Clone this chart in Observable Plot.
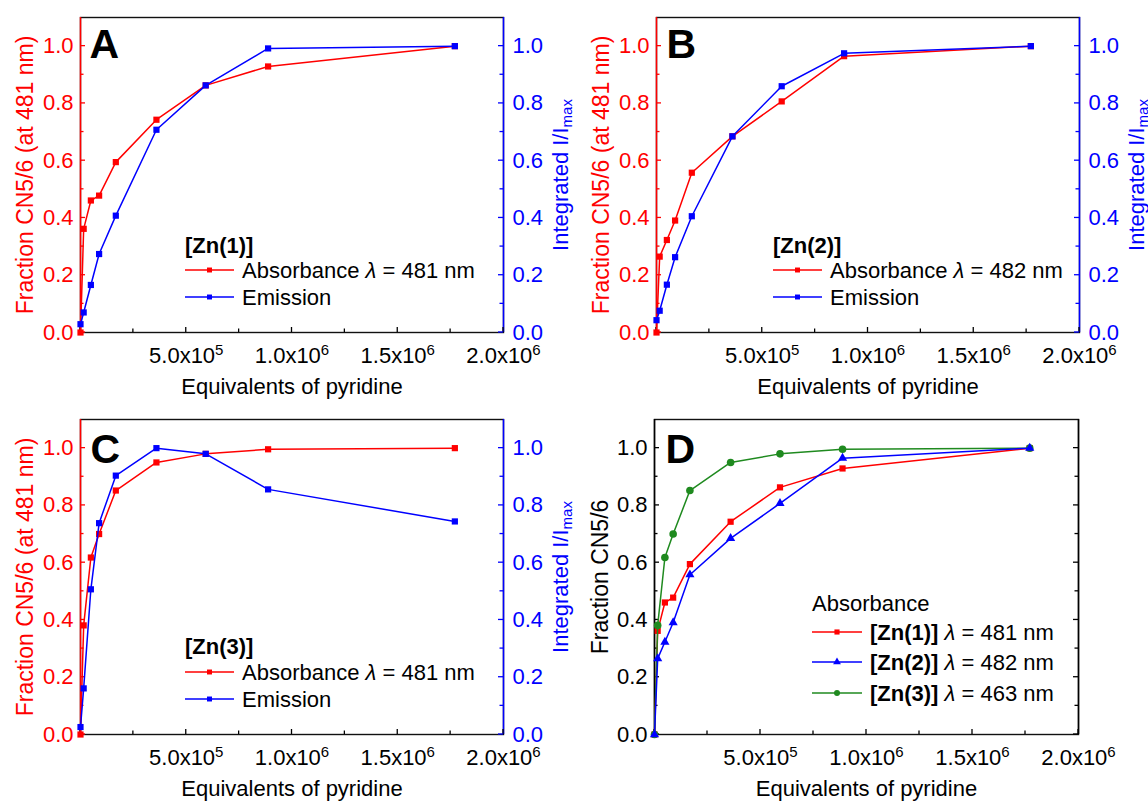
<!DOCTYPE html>
<html>
<head>
<meta charset="utf-8">
<script src="https://cdn.jsdelivr.net/npm/d3@7"></script>
<script src="https://cdn.jsdelivr.net/npm/@observablehq/plot@0.6"></script>
<style>
  body { margin: 0; background: #fff; color: #000; }
  #grid { display: grid; grid-template-columns: 574px 574px; grid-template-rows: 401px 401px; width: 1148px; height: 802px; }
  #grid svg { display: block; overflow: visible; }
</style>
</head>
<body>
<div id="grid"></div>
<script>
// ---- data ----
const equivalents = [0, 15000, 49000, 88000, 167000, 359000, 592000, 887000, 1770000];
const absZn1 = [0, 0.362, 0.461, 0.478, 0.595, 0.743, 0.863, 0.929, 1.0];
const emiZn1 = [0.029, 0.07, 0.166, 0.274, 0.408, 0.708, 0.863, 0.992, 1.0];
const absZn2 = [0, 0.265, 0.323, 0.391, 0.558, 0.685, 0.807, 0.965, 1.0];
const emiZn2 = [0.043, 0.076, 0.167, 0.263, 0.406, 0.685, 0.86, 0.975, 1.0];
const absZn3 = [0, 0.381, 0.618, 0.70, 0.852, 0.95, 0.98, 0.996, 1.0];
const emiZn3 = [0.026, 0.161, 0.507, 0.738, 0.904, 1.0, 0.98, 0.856, 0.744];

const xMajorTicks = [0, 500000, 1000000, 1500000, 2000000];
const xMinorTicks = [250000, 750000, 1250000, 1750000];
const yMajorTicks = [0, 0.2, 0.4, 0.6, 0.8, 1.0];
const yMinorTicks = [0.1, 0.3, 0.5, 0.7, 0.9];

const complexes = ["[Zn(1)]", "[Zn(2)]", "[Zn(3)]"];
const panelWavelengths = [481, 482, 481];
const overlayWavelengths = [481, 482, 463];
const xLabel = "Equivalents of pyridine";
const leftLabel = "Fraction CN5/6 (at 481 nm)";
const leftLabelD = "Fraction CN5/6";
const rightLabel = "Integrated I/I_max";

const RED = "#ff0000", BLUE = "#0000ff", GREEN = "#1f8a1f";
const FONT = "'Liberation Sans', Arial, Helvetica, sans-serif";

function sci(d) {
  if (d === 0) return "";
  const e = Math.floor(Math.log10(d) + 1e-9);
  const m = d / Math.pow(10, e);
  return `${m.toFixed(1)}x10^${e}`;
}
const rows = ys => equivalents.map((x, i) => ({x, y: ys[i]}));

// inward tick marks drawn through the plot's own scales
function tickMark(leftColor, rightColor) {
  return (index, scales, values, dims) => {
    const {x, y} = scales;
    const g = d3.create("svg:g").attr("stroke-width", 1.3);
    const bottom = dims.height - dims.marginBottom;
    const left = dims.marginLeft, right = dims.width - dims.marginRight;
    const seg = (x1, y1, x2, y2, c) => g.append("line").attr("x1", x1).attr("y1", y1).attr("x2", x2).attr("y2", y2).attr("stroke", c);
    for (const v of xMajorTicks) seg(x(v), bottom, x(v), bottom - 5, "#000");
    for (const v of xMinorTicks) seg(x(v), bottom, x(v), bottom - 3.5, "#000");
    for (const v of yMajorTicks) { seg(left, y(v), left + 5, y(v), leftColor); seg(right, y(v), right - 5, y(v), rightColor); }
    for (const v of yMinorTicks) { seg(left, y(v), left + 3.5, y(v), leftColor); seg(right, y(v), right - 3.5, y(v), rightColor); }
    return g.node();
  };
}

function legendMark(spec) {
  return () => {
    const g = d3.create("svg:g").attr("font-size", 22).attr("font-family", FONT).attr("text-anchor", "start");
    if (spec.title) {
      g.append("text").attr("x", spec.titleX ?? spec.x0).attr("y", spec.titleY).attr("dy", "0.35em")
        .attr("font-weight", spec.titleBold ? "bold" : null).attr("fill", "#000").text(spec.title);
    }
    for (const it of spec.items) {
      g.append("line").attr("x1", spec.x0).attr("x2", spec.x1).attr("y1", it.y).attr("y2", it.y)
        .attr("stroke", it.color).attr("stroke-width", 1.5);
      g.append("path").attr("d", d3.symbol(it.symbol, it.r * it.r * Math.PI)())
        .attr("transform", `translate(${(spec.x0 + spec.x1) / 2},${it.y})`).attr("fill", it.color);
      const t = g.append("text").attr("x", spec.textX).attr("y", it.y).attr("dy", "0.35em")
        .attr("fill", "#000").style("white-space", "pre");
      for (const [s, st] of it.parts) {
        t.append("tspan").attr("font-style", st === "italic" ? "italic" : null)
          .attr("font-weight", st === "bold" ? "bold" : null).text(s);
      }
    }
    return g.node();
  };
}

function enhance(svg) {
  d3.select(svg).selectAll("text").each(function() {
    if (this.querySelector("tspan")) return;
    const t = this.textContent;
    let m = t.match(/^(.*x10)\^(\d+)$/);
    if (m) {
      const s = d3.select(this); s.text(null);
      s.append("tspan").text(m[1]);
      s.append("tspan").attr("dy", "-0.55em").attr("font-size", 15).text(m[2]);
      return;
    }
    m = t.match(/^(.*)_(\w+)$/);
    if (m) {
      const s = d3.select(this); s.text(null);
      s.append("tspan").text(m[1]);
      s.append("tspan").attr("dy", "0.3em").attr("font-size", 15).text(m[2]);
    }
  });
}

function panel(cfg) {
  const marks = [
    Plot.frame({stroke: "#111", strokeWidth: 1.4}),
    Plot.axisX({ticks: xMajorTicks, tickFormat: sci, tickSize: 0, tickPadding: 15, label: null, color: "#000"}),
    Plot.axisY({anchor: "left", ticks: yMajorTicks, tickFormat: d => d.toFixed(1), tickSize: 0, tickPadding: 7, label: null, color: cfg.leftColor}),
    Plot.axisY({anchor: "right", ticks: yMajorTicks, tickFormat: cfg.rightLabels ? (d => d.toFixed(1)) : (() => ""), tickSize: 0, tickPadding: 9, label: null, color: cfg.rightColor}),
    Plot.ruleX([0], {stroke: cfg.leftColor, strokeWidth: 1.5}),
    Plot.ruleX([2000000], {stroke: cfg.rightColor, strokeWidth: 1.5}),
    tickMark(cfg.leftColor, cfg.rightColor),
    Plot.text([cfg.leftLabel], {text: d => d, frameAnchor: "left", rotate: -90, dx: cfg.leftDx, textAnchor: "middle", lineAnchor: "middle", fill: cfg.leftColor, fontSize: 23}),
    Plot.text([xLabel], {text: d => d, frameAnchor: "bottom", dy: 54, textAnchor: "middle", lineAnchor: "middle", fill: "#000", fontSize: 22}),
    Plot.text([cfg.letter], {text: d => d, frameAnchor: "top-left", dx: cfg.letterDx, dy: cfg.letterDy, textAnchor: "start", lineAnchor: "top", fontSize: 41, fontWeight: "bold", fill: "#000"})
  ];
  if (cfg.rightLabel) {
    marks.push(Plot.text([cfg.rightLabel], {text: d => d, frameAnchor: "right", rotate: -90, dx: 57, textAnchor: "middle", lineAnchor: "middle", fill: cfg.rightColor, fontSize: 22}));
  }
  for (const s of cfg.series) {
    marks.push(Plot.line(rows(s.values), {x: "x", y: "y", stroke: s.color, strokeWidth: 1.5}));
    marks.push(Plot.dot(rows(s.values), {x: "x", y: "y", symbol: s.symbol, r: s.r, fill: s.color, stroke: "none"}));
  }
  marks.push(legendMark(cfg.legend));
  const svg = Plot.plot({
    width: 574, height: 401,
    marginTop: cfg.m[0], marginRight: cfg.m[1], marginBottom: cfg.m[2], marginLeft: cfg.m[3],
    x: {domain: [0, 2000000]},
    y: {domain: [0, 1.1]},
    style: {fontFamily: FONT, fontSize: "22px", background: "#fff", color: "#000", overflow: "visible"},
    marks
  });
  enhance(svg);
  document.getElementById("grid").appendChild(svg);
}

function pairLegend(i, x0, titleY, y1, y2) {
  return {
    title: complexes[i], titleBold: true, titleY, x0, x1: x0 + 49, textX: x0 + 57,
    items: [
      {color: RED, symbol: d3.symbolSquare, r: 2.8, y: y1, parts: [["Absorbance ", ""], ["λ", "italic"], [` = ${panelWavelengths[i]} nm`, ""]]},
      {color: BLUE, symbol: d3.symbolSquare, r: 2.8, y: y2, parts: [["Emission", ""]]}
    ]
  };
}

const absSeries = [absZn1, absZn2, absZn3];
const emiSeries = [emiZn1, emiZn2, emiZn3];
const letters = ["A", "B", "C"];
const margins = [[17, 71, 69, 80], [17, 69, 69, 82], [18, 71, 68, 80]];
const legendPos = [[185, 245, 270, 297], [199, 245, 270, 297], [185, 245, 271, 298]];
const letterPos = [[9, 11], [10, 11], [10, 14]];

for (let i = 0; i < 3; i++) {
  panel({
    letter: letters[i], letterDx: letterPos[i][0], letterDy: letterPos[i][1],
    m: margins[i],
    leftColor: RED, rightColor: BLUE, rightLabels: true,
    leftLabel, leftDx: -55, rightLabel,
    series: [
      {values: absSeries[i], color: RED, symbol: "square", r: 3.5},
      {values: emiSeries[i], color: BLUE, symbol: "square", r: 3.5}
    ],
    legend: pairLegend(i, ...legendPos[i])
  });
}

panel({
  letter: "D", letterDx: 11, letterDy: 14,
  m: [18, 70, 68, 80],
  leftColor: "#000", rightColor: "#000", rightLabels: false,
  leftLabel: leftLabelD, leftDx: -54, rightLabel: null,
  series: [
    {values: absZn1, color: RED, symbol: "square", r: 3.5},
    {values: absZn3, color: GREEN, symbol: "circle", r: 3.8},
    {values: absZn2, color: BLUE, symbol: "triangle", r: 3.4}
  ],
  legend: {
    title: "Absorbance", titleBold: false, titleY: 202, x0: 238, x1: 288, textX: 296,
    items: [
      {color: RED, symbol: d3.symbolSquare, r: 2.9, y: 231, parts: [[complexes[0], "bold"], [" ", ""], ["λ", "italic"], [` = ${overlayWavelengths[0]} nm`, ""]]},
      {color: BLUE, symbol: d3.symbolTriangle, r: 2.9, y: 261, parts: [[complexes[1], "bold"], [" ", ""], ["λ", "italic"], [` = ${overlayWavelengths[1]} nm`, ""]]},
      {color: GREEN, symbol: d3.symbolCircle, r: 3.0, y: 292, parts: [[complexes[2], "bold"], [" ", ""], ["λ", "italic"], [` = ${overlayWavelengths[2]} nm`, ""]]}
    ]
  }
});
</script>
</body>
</html>
